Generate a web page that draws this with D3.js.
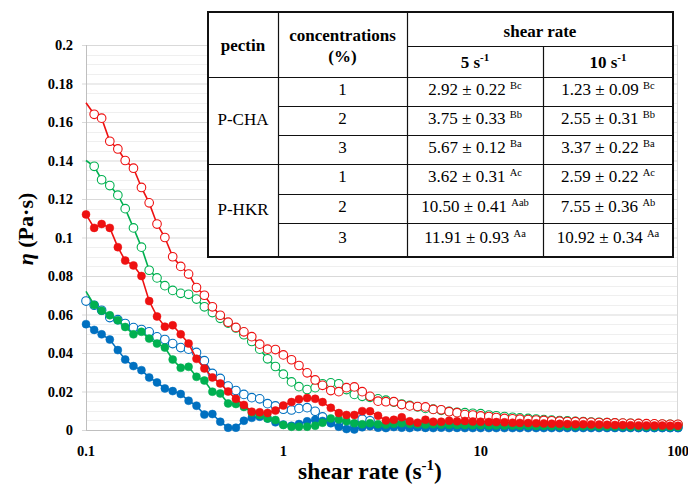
<!DOCTYPE html>
<html>
<head>
<meta charset="utf-8">
<script src="https://cdn.jsdelivr.net/npm/d3@7"></script>
<style>
  body { margin: 0; background: #fff; }
  svg { display: block; font-family: "Liberation Serif", "Times New Roman", serif; }
</style>
</head>
<body>
<script>
/** shear rate points (s-1), 25 per decade as measured */
const shearRate = [
  0.1, 0.11, 0.12, 0.132, 0.145, 0.158, 0.174, 0.191, 0.209, 0.229,
  0.251, 0.275, 0.302, 0.331, 0.363, 0.398, 0.437, 0.479, 0.525, 0.575,
  0.631, 0.692, 0.759, 0.832, 0.912, 1, 1.1, 1.2, 1.32, 1.45,
  1.58, 1.74, 1.91, 2.09, 2.29, 2.51, 2.75, 3.02, 3.31, 3.63,
  3.98, 4.37, 4.79, 5.25, 5.75, 6.31, 6.92, 7.59, 8.32, 9.12,
  10, 11, 12, 13.2, 14.5, 15.8, 17.4, 19.1, 20.9, 22.9,
  25.1, 27.5, 30.2, 33.1, 36.3, 39.8, 43.7, 47.9, 52.5, 57.5,
  63.1, 69.2, 75.9, 83.2, 91.2, 100
]

/** viscosity (Pa·s), P-HKR open markers */
const hkr1 = [
  0.067, 0.0648, 0.0622, 0.0584, 0.0573, 0.0553, 0.0532, 0.0522, 0.051, 0.0484,
  0.047, 0.0449, 0.0428, 0.042, 0.0403, 0.036, 0.0294, 0.0268, 0.0228, 0.0205,
  0.0185, 0.0168, 0.0162, 0.0137, 0.0125, 0.0108, 0.0104, 0.0112, 0.0116, 0.0097,
  0.0068, 0.0045, 0.003, 0.0022, 0.0028, 0.0056, 0.0048, 0.0022, 0.0017, 0.0043,
  0.004, 0.0025, 0.002, 0.0035, 0.003, 0.0022, 0.0028, 0.0025, 0.0022, 0.0024,
  0.0022, 0.0021, 0.0021, 0.002, 0.002, 0.0019, 0.0019, 0.0018, 0.0018, 0.0018,
  0.0017, 0.0017, 0.0017, 0.0016, 0.0016, 0.0016, 0.0015, 0.0015, 0.0015, 0.0015,
  0.0014, 0.0014, 0.0014, 0.0014, 0.0013, 0.0013
]
const hkr2 = [
  0.140, 0.137, 0.130, 0.127, 0.122, 0.115, 0.105, 0.095, 0.083, 0.079,
  0.075, 0.0725, 0.071, 0.0705, 0.068, 0.064, 0.061, 0.058, 0.0555, 0.053,
  0.0495, 0.046, 0.042, 0.037, 0.033, 0.029, 0.025, 0.0225, 0.021, 0.022,
  0.024, 0.0245, 0.024, 0.021, 0.0185, 0.0175, 0.017, 0.0162, 0.0155, 0.0145,
  0.0135, 0.0128, 0.012, 0.0112, 0.0108, 0.0102, 0.0097, 0.0092, 0.009, 0.0087,
  0.0085, 0.0078, 0.0074, 0.007, 0.0066, 0.0063, 0.006, 0.0057, 0.0054, 0.0051,
  0.0049, 0.0047, 0.0045, 0.0043, 0.0041, 0.004, 0.0038, 0.0037, 0.0035, 0.0034,
  0.0033, 0.0032, 0.003, 0.003, 0.0029, 0.0028
]
const hkr3 = [
  0.170, 0.164, 0.162, 0.150, 0.146, 0.140, 0.136, 0.126, 0.118, 0.107,
  0.100, 0.090, 0.085, 0.081, 0.074, 0.070, 0.064, 0.0596, 0.056, 0.0533,
  0.051, 0.0485, 0.0446, 0.042, 0.0418, 0.039, 0.0365, 0.0335, 0.0297, 0.026,
  0.0232, 0.0205, 0.0199, 0.022, 0.0224, 0.0199, 0.0175, 0.015, 0.0147, 0.0147,
  0.0132, 0.0125, 0.0122, 0.012, 0.0107, 0.0105, 0.0095, 0.009, 0.008, 0.0078,
  0.0073, 0.007, 0.0065, 0.006, 0.0058, 0.0056, 0.0054, 0.0052, 0.005, 0.0048,
  0.0046, 0.0044, 0.0043, 0.0042, 0.004, 0.0039, 0.0038, 0.0037, 0.0036, 0.0035,
  0.0034, 0.0033, 0.0032, 0.0031, 0.003, 0.003
]

/** viscosity (Pa·s), P-CHA filled markers */
const cha1 = [
  0.055, 0.052, 0.0497, 0.047, 0.0415, 0.0366, 0.0332, 0.0311, 0.0273, 0.0247,
  0.0216, 0.0202, 0.0187, 0.0152, 0.0126, 0.008, 0.0083, 0.0043, 0.0012, 0.0012,
  0.0048, 0.0063, 0.0069, 0.006, 0.004, 0.0028, 0.0022, 0.0031, 0.0045, 0.0053,
  0.0047, 0.0035, 0.0017, 0.0005, 0.0003, 0.0014, 0.002, 0.0012, 0.001, 0.0015,
  0.0012, 0.001, 0.0014, 0.0011, 0.001, 0.0012, 0.001, 0.0011, 0.001, 0.001,
  0.001, 0.001, 0.001, 0.001, 0.001, 0.001, 0.001, 0.001, 0.001, 0.001,
  0.001, 0.001, 0.001, 0.001, 0.001, 0.001, 0.001, 0.001, 0.001, 0.001,
  0.001, 0.001, 0.001, 0.001, 0.001, 0.001
]
const cha2 = [
  0.072, 0.065, 0.062, 0.0596, 0.057, 0.0535, 0.0497, 0.051, 0.0475, 0.0449,
  0.0428, 0.0366, 0.0323, 0.0328, 0.0276, 0.0257, 0.0199, 0.019, 0.0138, 0.0135,
  0.012, 0.009, 0.0078, 0.006, 0.0052, 0.0026, 0.0017, 0.0017, 0.0017, 0.0022,
  0.0038, 0.006, 0.0055, 0.0045, 0.0035, 0.003, 0.0035, 0.003, 0.0028, 0.0032,
  0.0035, 0.0032, 0.003, 0.0028, 0.003, 0.0028, 0.0027, 0.0026, 0.0026, 0.0025,
  0.0025, 0.0024, 0.0024, 0.0023, 0.0023, 0.0022, 0.0022, 0.0021, 0.0021, 0.002,
  0.002, 0.002, 0.0019, 0.0019, 0.0019, 0.0018, 0.0018, 0.0018, 0.0018, 0.0017,
  0.0017, 0.0017, 0.0017, 0.0017, 0.0016, 0.0016
]
const cha3 = [
  0.112, 0.105, 0.107, 0.105, 0.095, 0.088, 0.0855, 0.080, 0.067, 0.059,
  0.0537, 0.0544, 0.0497, 0.0449, 0.037, 0.032, 0.0273, 0.0242, 0.02, 0.0162,
  0.013, 0.0095, 0.0092, 0.0088, 0.0101, 0.0127, 0.0145, 0.016, 0.0166, 0.0162,
  0.0145, 0.0115, 0.0088, 0.0078, 0.0078, 0.0098, 0.0097, 0.0074, 0.005, 0.0053,
  0.0066, 0.0045, 0.0038, 0.0053, 0.0043, 0.0043, 0.0048, 0.0045, 0.0047, 0.0044,
  0.0043, 0.0042, 0.0041, 0.004, 0.0038, 0.0037, 0.0036, 0.0035, 0.0034, 0.0033,
  0.0032, 0.0031, 0.003, 0.003, 0.0029, 0.0028, 0.0027, 0.0026, 0.0026, 0.0025,
  0.0024, 0.0024, 0.0023, 0.0023, 0.0022, 0.0022
]

/** axis tick labels */
const xTicks = [0.1, 1, 10, 100]
const xTickLabels = ['0.1', '1', '10', '100']
const yTicks = [0, 0.02, 0.04, 0.06, 0.08, 0.1, 0.12, 0.14, 0.16, 0.18, 0.2]
const yTickLabels = ['0', '0.02', '0.04', '0.06', '0.08', '0.1', '0.12', '0.14', '0.16', '0.18', '0.2']

/** table contents */
const pectins = ['P-CHA', 'P-HKR']
const concentrations = ['1', '2', '3']
const rate5 = ['2.92 ± 0.22', '3.75 ± 0.33', '5.67 ± 0.12', '3.62 ± 0.31', '10.50 ± 0.41', '11.91 ± 0.93']
const rate5Letters = ['Bc', 'Bb', 'Ba', 'Ac', 'Aab', 'Aa']
const rate10 = ['1.23 ± 0.09', '2.55 ± 0.31', '3.37 ± 0.22', '2.59 ± 0.22', '7.55 ± 0.36', '10.92 ± 0.34']
const rate10Letters = ['Bc', 'Bb', 'Ba', 'Ac', 'Ab', 'Aa']

/** series in drawing order: open (P-HKR) first, then filled (P-CHA) */
const series = [
  { values: hkr1, color: '#0070c0', open: true, firstMarker: true },
  { values: hkr2, color: '#00b050', open: true, firstMarker: false },
  { values: hkr3, color: '#ee1111', open: true, firstMarker: false },
  { values: cha1, color: '#0070c0', open: false, firstMarker: true },
  { values: cha2, color: '#00b050', open: false, firstMarker: false },
  { values: cha3, color: '#ee1111', open: false, firstMarker: true }
]

const width = 688, height = 485
const plot = { left: 86, right: 678, top: 45, bottom: 430 }

const svg = d3.select('body').append('svg')
  .attr('width', width)
  .attr('height', height)

const x = d3.scaleLog().domain([0.1, 100]).range([plot.left, plot.right])
const y = d3.scaleLinear().domain([0, 0.2]).range([plot.bottom, plot.top])

/** minor and major horizontal grid */
svg.append('g')
  .selectAll('line')
  .data(d3.range(0.005, 0.2, 0.005).filter(v => Math.abs(v / 0.02 - Math.round(v / 0.02)) > 0.01))
  .enter().append('line')
  .attr('x1', plot.left).attr('x2', plot.right)
  .attr('y1', d => Math.round(y(d)) + 0.5).attr('y2', d => Math.round(y(d)) + 0.5)
  .attr('stroke', '#efefef')

svg.append('g')
  .attr('transform', `translate(${plot.left},0)`)
  .call(d3.axisLeft(y).tickValues(yTicks).tickSize(-(plot.right - plot.left)).tickFormat(''))
  .call(g => g.select('.domain').remove())
  .call(g => g.selectAll('line').attr('stroke', '#d9d9d9').attr('x1', -4))

/** plot frame lines */
svg.append('line')
  .attr('x1', plot.left + 0.5).attr('x2', plot.left + 0.5)
  .attr('y1', plot.top).attr('y2', plot.bottom)
  .attr('stroke', '#bfbfbf')
svg.append('line')
  .attr('x1', plot.right - 0.5).attr('x2', plot.right - 0.5)
  .attr('y1', plot.top).attr('y2', plot.bottom)
  .attr('stroke', '#d9d9d9')
svg.append('line')
  .attr('x1', plot.left).attr('x2', plot.right)
  .attr('y1', plot.bottom + 0.5).attr('y2', plot.bottom + 0.5)
  .attr('stroke', '#bfbfbf')

/** tick labels */
svg.append('g')
  .selectAll('text')
  .data(yTicks)
  .enter().append('text')
  .attr('x', 73)
  .attr('y', d => y(d) + 5)
  .attr('text-anchor', 'end')
  .attr('font-size', 14.5)
  .attr('font-weight', 'bold')
  .text((d, i) => yTickLabels[i])

svg.append('g')
  .selectAll('text')
  .data(xTicks)
  .enter().append('text')
  .attr('x', d => x(d))
  .attr('y', 456)
  .attr('text-anchor', 'middle')
  .attr('font-size', 14.5)
  .attr('font-weight', 'bold')
  .text((d, i) => xTickLabels[i])

/** axis titles */
let yTitle = svg.append('text')
  .attr('transform', 'translate(33,229) rotate(-90)')
  .attr('text-anchor', 'middle')
  .attr('font-size', 22)
  .attr('font-weight', 'bold')
yTitle.append('tspan').attr('font-style', 'italic').text('η')
yTitle.append('tspan').text(' (Pa·s)')

let xTitle = svg.append('text')
  .attr('x', 370)
  .attr('y', 479)
  .attr('text-anchor', 'middle')
  .attr('font-size', 23.5)
  .attr('font-weight', 'bold')
xTitle.append('tspan').text('shear rate (s')
xTitle.append('tspan').attr('font-size', 15).attr('dy', -9).text('-1')
xTitle.append('tspan').attr('dy', 9).text(')')

/** curves with markers */
const line = d3.line()
  .x(d => x(d[0]))
  .y(d => y(d[1]))

for (let s of series) {
  let pts = shearRate.map((r, i) => [r, s.values[i]])
  let g = svg.append('g')
  g.append('path')
    .datum(pts)
    .attr('d', line)
    .attr('fill', 'none')
    .attr('stroke', s.color)
    .attr('stroke-width', 1.6)
  g.selectAll('circle')
    .data(s.firstMarker ? pts : pts.slice(1))
    .enter().append('circle')
    .attr('cx', d => x(d[0]))
    .attr('cy', d => y(d[1]))
    .attr('r', s.open ? 4.3 : 4)
    .attr('fill', s.open ? '#fff' : s.color)
    .attr('stroke', s.color)
    .attr('stroke-width', s.open ? 1.1 : 0.5)
}

/** table on top of the plot */
const cols = [208, 278, 407, 543, 673]
const rows = [12, 46, 77, 106, 135, 164, 194, 223, 257]
const tbl = svg.append('g').attr('font-size', 17)

tbl.append('rect')
  .attr('x', cols[0]).attr('y', rows[0])
  .attr('width', cols[4] - cols[0]).attr('height', rows[8] - rows[0])
  .attr('fill', '#fff')

let hLines = [
  [cols[2], cols[4], rows[1]],
  [cols[0], cols[4], rows[2]],
  [cols[1], cols[4], rows[3]],
  [cols[1], cols[4], rows[4]],
  [cols[0], cols[4], rows[5]],
  [cols[1], cols[4], rows[6]],
  [cols[1], cols[4], rows[7]]
]
tbl.selectAll('line.h')
  .data(hLines)
  .enter().append('line')
  .attr('x1', d => d[0]).attr('x2', d => d[1])
  .attr('y1', d => d[2] + 0.5).attr('y2', d => d[2] + 0.5)
  .attr('stroke', '#111').attr('stroke-width', 1.2)

let vLines = [
  [cols[1], rows[0], rows[8]],
  [cols[2], rows[0], rows[8]],
  [cols[3], rows[1], rows[8]]
]
tbl.selectAll('line.v')
  .data(vLines)
  .enter().append('line')
  .attr('x1', d => d[0] + 0.5).attr('x2', d => d[0] + 0.5)
  .attr('y1', d => d[1]).attr('y2', d => d[2])
  .attr('stroke', '#111').attr('stroke-width', 1.2)

tbl.append('rect')
  .attr('x', cols[0]).attr('y', rows[0])
  .attr('width', cols[4] - cols[0]).attr('height', rows[8] - rows[0])
  .attr('fill', 'none')
  .attr('stroke', '#111')
  .attr('stroke-width', 2)

/** writes text with its baseline at by, centred on cx */
function cellText(cx, by, txt, bold) {
  return tbl.append('text')
    .attr('x', cx).attr('y', by)
    .attr('text-anchor', 'middle')
    .attr('font-weight', bold ? 'bold' : 'normal')
    .text(txt)
}

const mid = (a, b) => (a + b) / 2

/** header */
cellText(mid(cols[0], cols[1]), 51, 'pectin', true)
cellText(mid(cols[1], cols[2]), 40.5, 'concentrations', true)
cellText(mid(cols[1], cols[2]), 62, '(%)', true)
cellText(mid(cols[2], cols[4]), 37, 'shear rate', true)
let h5 = cellText(mid(cols[2], cols[3]), 68, '5 s', true)
h5.append('tspan').attr('font-size', 11).attr('dy', -7).text('-1')
let h10 = cellText(mid(cols[3], cols[4]), 68, '10 s', true)
h10.append('tspan').attr('font-size', 11).attr('dy', -7).text('-1')

/** body */
pectins.forEach((p, pi) => {
  let top = rows[2 + pi * 3], bottom = rows[5 + pi * 3]
  cellText(mid(cols[0], cols[1]), mid(top, bottom) + 4, p, false)
  concentrations.forEach((c, ci) => {
    let k = pi * 3 + ci
    let by = mid(rows[2 + k], rows[3 + k]) + 3
    cellText(mid(cols[1], cols[2]), by, c, false)
    let t5 = cellText(mid(cols[2], cols[3]), by, rate5[k] + ' ', false)
    t5.append('tspan').attr('font-size', 10.5).attr('dy', -6).text(rate5Letters[k])
    let t10 = cellText(mid(cols[3], cols[4]), by, rate10[k] + ' ', false)
    t10.append('tspan').attr('font-size', 10.5).attr('dy', -6).text(rate10Letters[k])
  })
})
</script>
</body>
</html>
